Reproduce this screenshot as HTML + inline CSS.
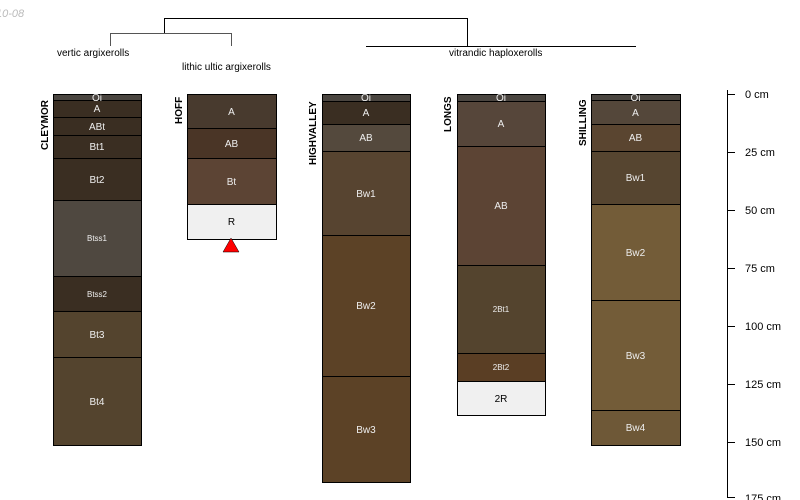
<!DOCTYPE html>
<html><head><meta charset="utf-8"><style>body{margin:0;background:#fff}svg{display:block}text{font-family:"Liberation Sans",sans-serif}</style></head><body>
<svg width="800" height="500" viewBox="0 0 800 500" xmlns="http://www.w3.org/2000/svg">
<text x="-4" y="17" font-size="11" fill="#bbb" font-style="italic">10-08</text>
<g stroke="#000" fill="none" stroke-width="1">
<path d="M164.5 33V18.5H467.5V46"/>
<path d="M110.5 46V33.5H231.5V46" stroke="#555"/>
<path d="M366 46.5H636"/>
</g>
<g font-size="10" fill="#000">
<text x="57" y="56">vertic argixerolls</text>
<text x="182" y="70">lithic ultic argixerolls</text>
<text x="449" y="56">vitrandic haploxerolls</text>
</g>
<g font-size="10" font-weight="bold" fill="#000">
<text transform="translate(48,150) rotate(-90)">CLEYMOR</text>
<text transform="translate(182,124) rotate(-90)">HOFF</text>
<text transform="translate(316,165) rotate(-90)">HIGHVALLEY</text>
<text transform="translate(451,132) rotate(-90)">LONGS</text>
<text transform="translate(586,146) rotate(-90)">SHILLING</text>
</g>
<g stroke="#000" stroke-width="1">
<rect x="53.5" y="94.5" width="88" height="6" fill="#4a4540"/>
<rect x="53.5" y="100.5" width="88" height="17" fill="#3a2e22"/>
<rect x="53.5" y="117.5" width="88" height="18" fill="#3a2e22"/>
<rect x="53.5" y="135.5" width="88" height="23" fill="#3a2e22"/>
<rect x="53.5" y="158.5" width="88" height="42" fill="#3a2e22"/>
<rect x="53.5" y="200.5" width="88" height="76" fill="#4f4840"/>
<rect x="53.5" y="276.5" width="88" height="35" fill="#3a2e22"/>
<rect x="53.5" y="311.5" width="88" height="46" fill="#54442e"/>
<rect x="53.5" y="357.5" width="88" height="88" fill="#54442e"/>

<rect x="187.5" y="94.5" width="89" height="34" fill="#483a2e"/>
<rect x="187.5" y="128.5" width="89" height="30" fill="#4a3526"/>
<rect x="187.5" y="158.5" width="89" height="46" fill="#5c4434"/>
<rect x="187.5" y="204.5" width="89" height="35" fill="#f0f0f0"/>

<rect x="322.5" y="94.5" width="88" height="7" fill="#4a4540"/>
<rect x="322.5" y="101.5" width="88" height="23" fill="#3a2e22"/>
<rect x="322.5" y="124.5" width="88" height="27" fill="#54493d"/>
<rect x="322.5" y="151.5" width="88" height="84" fill="#574430"/>
<rect x="322.5" y="235.5" width="88" height="141" fill="#5c4226"/>
<rect x="322.5" y="376.5" width="88" height="106" fill="#5c4226"/>

<rect x="457.5" y="94.5" width="88" height="7" fill="#4a4540"/>
<rect x="457.5" y="101.5" width="88" height="45" fill="#56463a"/>
<rect x="457.5" y="146.5" width="88" height="119" fill="#5c4434"/>
<rect x="457.5" y="265.5" width="88" height="88" fill="#54442e"/>
<rect x="457.5" y="353.5" width="88" height="28" fill="#5a3e24"/>
<rect x="457.5" y="381.5" width="88" height="34" fill="#f0f0f0"/>

<rect x="591.5" y="94.5" width="89" height="6" fill="#4a4540"/>
<rect x="591.5" y="100.5" width="89" height="24" fill="#54473a"/>
<rect x="591.5" y="124.5" width="89" height="27" fill="#5a4530"/>
<rect x="591.5" y="151.5" width="89" height="53" fill="#564530"/>
<rect x="591.5" y="204.5" width="89" height="96" fill="#735c38"/>
<rect x="591.5" y="300.5" width="89" height="110" fill="#735c38"/>
<rect x="591.5" y="410.5" width="89" height="35" fill="#6e5837"/>
</g>
<g font-size="10" fill="#eee" text-anchor="middle">
<text x="97" y="101">Oi</text><text x="97" y="112">A</text><text x="97" y="130">ABt</text><text x="97" y="150">Bt1</text><text x="97" y="183">Bt2</text>
<text x="97" y="241" font-size="8">Btss1</text><text x="97" y="297" font-size="8">Btss2</text><text x="97" y="338">Bt3</text><text x="97" y="405">Bt4</text>
<text x="231.5" y="115">A</text><text x="231.5" y="147">AB</text><text x="231.5" y="185">Bt</text><text x="231.5" y="225" fill="#000">R</text>
<text x="366" y="101">Oi</text><text x="366" y="116">A</text><text x="366" y="141">AB</text><text x="366" y="197">Bw1</text><text x="366" y="309">Bw2</text><text x="366" y="433">Bw3</text>
<text x="501" y="101">Oi</text><text x="501" y="127">A</text><text x="501" y="209">AB</text><text x="501" y="312" font-size="8">2Bt1</text><text x="501" y="370" font-size="8">2Bt2</text><text x="501" y="402" fill="#000">2R</text>
<text x="635.5" y="101">Oi</text><text x="635.5" y="116">A</text><text x="635.5" y="141">AB</text><text x="635.5" y="181">Bw1</text><text x="635.5" y="256">Bw2</text><text x="635.5" y="359">Bw3</text><text x="635.5" y="431">Bw4</text>
</g>
<polygon points="231,238 223,252 239,252" fill="#f00" stroke="#000" stroke-width="0.5"/>
<g stroke="#000"><path d="M727.5 90V498M727 94.5H735M727 152.5H735M727 210.5H735M727 268.5H735M727 326.5H735M727 384.5H735M727 442.5H735M727 497.5H735"/></g>
<g font-size="11" fill="#000">
<text x="745" y="98">0 cm</text><text x="745" y="156">25 cm</text><text x="745" y="214">50 cm</text><text x="745" y="272">75 cm</text><text x="745" y="330">100 cm</text><text x="745" y="388">125 cm</text><text x="745" y="446">150 cm</text><text x="745" y="502">175 cm</text>
</g>
</svg>
</body></html>
